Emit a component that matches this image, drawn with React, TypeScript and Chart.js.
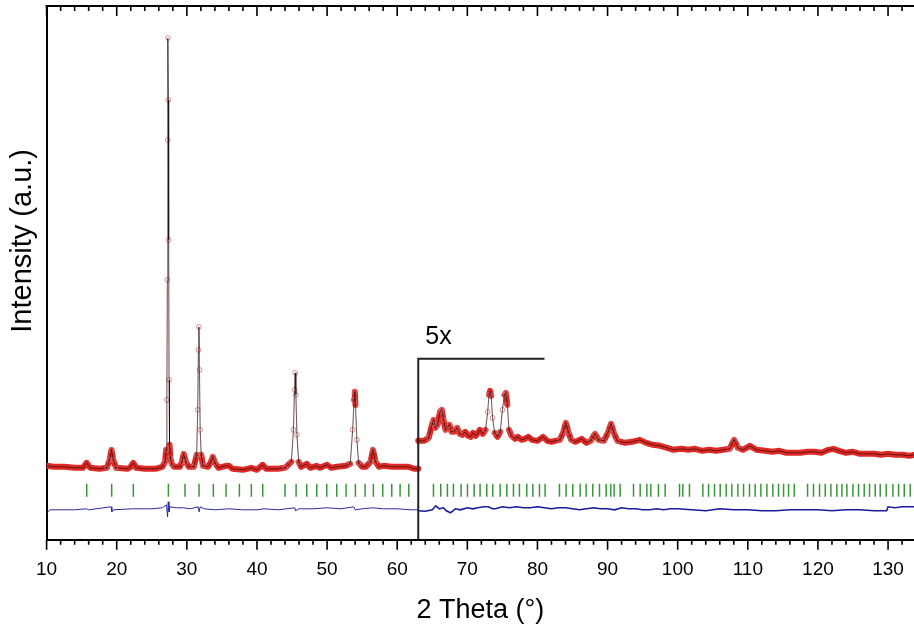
import React, { useEffect, useRef } from 'react';
import { Chart, registerables } from 'chart.js';

Chart.register(...registerables);

// low-angle part, 10 - 63 deg (as measured)
const lowTheta = [
  10.0, 11.0, 12.5, 14.0, 15.2, 15.7, 16.2, 17.5, 18.6, 19.0, 19.25, 19.5, 19.9, 21.5, 22.0, 22.35, 22.8,
  24.0, 25.5, 26.5, 26.9, 27.05, 27.15, 27.22, 27.27, 27.31, 27.36, 27.41, 27.46, 27.53, 27.65, 27.85,
  28.2, 29.0, 29.3, 29.55, 29.85, 30.3, 31.0, 31.4, 31.55, 31.65, 31.72, 31.8, 31.9, 32.05, 32.3, 33.0,
  33.45, 33.7, 34.0, 34.5, 35.6, 36.0, 36.5, 38.0, 39.2, 40.0, 40.8, 41.3, 43.0, 44.0, 44.9, 45.2, 45.35,
  45.45, 45.55, 45.7, 45.95, 46.3, 47.1, 47.6, 48.5, 49.0, 50.0, 50.6, 51.4, 52.7, 53.3, 53.65, 53.85,
  53.95, 54.05, 54.25, 54.5, 55.0, 55.5, 56.2, 56.55, 56.9, 57.4, 58.0, 59.2, 60.4, 61.6, 62.5, 63.0
];
const lowIntensity = [
  74, 73, 73, 72, 72, 77, 72, 71, 72, 80, 90, 80, 72, 71, 73, 77, 72,
  71, 71, 73, 78, 90, 140, 260, 400, 502, 440, 300, 160, 95, 82, 76,
  73, 73, 78, 86, 78, 73, 73, 85, 130, 190, 213, 170, 110, 85, 74, 73,
  78, 83, 77, 72, 74, 74, 71, 70, 72, 70, 75, 71, 71, 72, 78, 110, 150,
  167, 145, 105, 78, 73, 76, 72, 74, 72, 75, 72, 73, 74, 76, 110, 140,
  148, 135, 100, 77, 73, 73, 78, 90, 78, 73, 74, 73, 73, 73, 71, 71
];

// high-angle part, 63 - 134 deg, shown 5x
const highTheta = [
  63.0, 63.8, 64.5, 65.0, 65.2, 65.45, 65.75, 66.1, 66.35, 66.6, 66.9, 67.2, 67.45, 67.75, 68.1, 68.55,
  68.9, 69.3, 69.7, 70.1, 70.45, 70.8, 71.2, 71.5, 71.8, 72.2, 72.6, 72.9, 73.1, 73.25, 73.4, 73.6, 73.9,
  74.3, 74.7, 75.0, 75.3, 75.5, 75.7, 75.95, 76.3, 76.8, 77.2, 77.7, 78.2, 78.7, 79.2, 80.0, 80.8, 81.4,
  82.0, 82.5, 83.2, 83.7, 84.05, 84.4, 84.8, 85.4, 86.3, 87.0, 87.6, 88.2, 88.7, 89.5, 90.1, 90.5, 90.9,
  91.4, 92.5, 93.5, 94.6, 95.5, 96.5, 97.5, 98.5, 99.4, 100.5, 101.5, 102.5, 103.5, 104.5, 105.5, 106.5,
  107.4, 108.05, 108.6, 109.3, 110.3, 111.2, 112.5, 113.5, 114.5, 115.5, 116.5, 117.5, 118.5, 119.5,
  120.5, 121.5, 122.2, 123.0, 124.0, 125.0, 126.0, 127.0, 128.0, 129.0, 130.0, 131.0, 132.0, 133.0, 133.7
];
const highIntensity = [
  99, 99, 102, 116, 120, 112, 115, 128, 130, 120, 110, 113, 115, 108, 108, 112,
  106, 105, 108, 104, 103, 107, 104, 107, 110, 106, 110, 128, 145, 149, 144, 122, 107,
  103, 108, 130, 145, 147, 135, 110, 104, 101, 103, 100, 101, 103, 100, 99, 103, 99,
  98, 99, 100, 108, 117, 108, 100, 98, 101, 97, 99, 106, 100, 99, 108, 116, 107,
  99, 97, 98, 100, 97, 95, 94, 92, 90, 91, 90, 91, 89, 90, 89, 90,
  91, 100, 92, 90, 94, 90, 89, 88, 89, 87, 87, 87, 88, 88,
  87, 90, 91, 89, 87, 88, 86, 86, 86, 85, 86, 85, 85, 84, 85
];

// difference curves
const diffLowTheta = [
  10.0, 10.5, 14, 15.7, 16, 19.2, 19.3, 19.5, 22.3, 25, 26.5, 27.1, 27.25, 27.35, 27.45, 27.6, 28.5, 29.5,
  30.5, 31.6, 31.75, 31.9, 32.5, 34, 36, 38, 40, 41, 43, 45.4, 45.5, 46, 48, 50, 52, 53.8, 54.0, 55, 56.5,
  58, 60, 62, 63
];
const diffLow = [
  27, 30, 30, 31, 30, 33, 28, 30, 31, 31, 32, 35, 23, 38, 28, 33, 32, 32,
  31, 33, 28, 33, 31, 30, 31, 30, 30, 31, 30, 32, 29, 31, 31, 32, 31, 33, 30, 31, 32,
  31, 31, 30, 30
];
const diffHighTheta = [
  63.0, 64, 65, 65.5, 66, 66.6, 67, 67.6, 68.3, 69, 70, 70.8, 71.5, 72.3, 73, 73.6, 74, 75, 76, 77, 78, 79,
  80, 81, 82, 83, 84, 85, 86, 87, 88, 89, 90, 91, 92, 93, 94, 95, 96, 97, 98, 99, 100, 102, 104, 106, 108,
  110, 112, 114, 116, 118, 120, 122, 124, 126, 128, 129.8, 130, 131, 132, 133.7
];
const diffHigh = [
  29, 28.5, 30, 34, 31, 32, 29, 27, 31, 30, 32, 31, 32, 33, 33, 31, 31, 33, 32, 33, 32, 32,
  33, 32, 31, 32, 32, 31, 30, 31, 32, 31, 31, 30, 32, 31, 31, 30, 30, 31, 30, 31, 31, 30, 29, 31, 30,
  30, 29, 29, 30, 30, 30, 29, 30, 30, 29, 29, 33, 32, 33, 33
];

// Bragg reflection positions
const braggTheta = [
  15.72, 19.28, 22.37, 27.37, 29.74, 31.74, 33.78, 35.59, 37.49, 39.2, 40.82, 44.0, 45.58, 47.1, 48.53,
  49.95, 51.38, 52.71, 54.04, 55.42, 56.6, 57.94, 59.22, 60.41, 61.65,
  65.17, 66.21, 67.16, 68.02, 69.11, 70.02, 70.97, 71.82, 72.77, 73.63, 74.68, 75.63, 76.58, 77.43, 78.48,
  79.34, 80.29, 81.09, 83.14, 84.09, 85.04, 86.09, 86.94, 87.89, 88.85, 89.8, 90.46, 90.94, 91.79, 93.7,
  94.65, 95.6, 96.17, 97.26, 98.21, 100.26, 100.73, 101.68, 103.59, 104.4, 105.25, 106.06, 106.92, 107.72,
  108.58, 109.39, 110.24, 111.05, 111.86, 112.72, 113.57, 114.38, 115.1, 115.81, 116.62, 118.52, 119.37,
  120.23, 121.04, 121.85, 122.7, 123.42, 124.13, 124.99, 125.79, 126.6, 127.36, 128.17, 128.88, 129.74,
  130.69, 131.5, 132.31, 133.16
];
const braggLevel = 49.5;

const scaleBreak = 63;
const scaleBarEnd = 81;
const scaleBarLevel = 181;
const scaleLabel = '5x';
const yTitle = 'Intensity (a.u.)';

const FONT = '"Liberation Sans", Arial, sans-serif';

const points = (xs: number[], ys: number[]) => xs.map((x, i) => ({ x, y: ys[i] }));

// observed band is thick on the background, thin where the profile climbs
const steep = (ctx: any) => Math.abs(ctx.p1.y - ctx.p0.y) > 14;

const peakRadius = (ys: number[]) => (ctx: any) => {
  const i = ctx.dataIndex;
  const y = ys[i];
  const prev = i > 0 ? ys[i - 1] : y;
  const next = i < ys.length - 1 ? ys[i + 1] : y;
  return Math.max(Math.abs(y - prev), Math.abs(y - next)) > 5 ? 2.4 : 0;
};

const observed = (xs: number[], ys: number[]) => ({
  type: 'line' as const,
  data: points(xs, ys),
  borderColor: '#de2a26',
  borderWidth: 6,
  borderJoinStyle: 'round' as const,
  borderCapStyle: 'round' as const,
  segment: {
    borderWidth: (ctx: any) => (steep(ctx) ? 0.8 : 6),
    borderColor: (ctx: any) => (steep(ctx) ? 'rgba(215,130,130,0.6)' : '#de2a26'),
  },
  pointRadius: peakRadius(ys),
  pointBorderWidth: 0.9,
  pointBorderColor: 'rgba(200,120,120,0.9)',
  pointBackgroundColor: 'rgba(255,255,255,0)',
  order: 3,
});

const calculated = (xs: number[], ys: number[]) => ({
  type: 'line' as const,
  data: points(xs, ys),
  borderColor: 'rgba(0,0,0,0.55)',
  borderWidth: 1,
  pointRadius: 0,
  order: 1,
});

const frame = {
  id: 'frame',
  afterDraw(chart: any) {
    const { ctx, chartArea: a, scales } = chart;
    const x = scales.x;
    const y = scales.y;
    ctx.save();
    ctx.strokeStyle = '#000';
    ctx.lineWidth = 2;
    ctx.beginPath();
    ctx.moveTo(a.left - 1, a.top);
    ctx.lineTo(a.right, a.top);
    ctx.stroke();

    ctx.lineWidth = 1.6;
    ctx.beginPath();
    for (let v = 10; v <= 134; v += 2) {
      const px = x.getPixelForValue(v);
      if (px > a.right + 1) break;
      const len = v % 10 === 0 ? 10 : 5;
      ctx.moveTo(px, a.bottom);
      ctx.lineTo(px, a.bottom + len);
      ctx.moveTo(px, a.top);
      ctx.lineTo(px, a.top + len);
    }
    ctx.stroke();

    // 5x marker
    const bx = x.getPixelForValue(scaleBreak);
    const by = y.getPixelForValue(scaleBarLevel);
    ctx.strokeStyle = '#222';
    ctx.lineWidth = 2;
    ctx.beginPath();
    ctx.moveTo(bx, a.bottom);
    ctx.lineTo(bx, by);
    ctx.lineTo(x.getPixelForValue(scaleBarEnd), by);
    ctx.stroke();
    ctx.fillStyle = '#000';
    ctx.font = `25px ${FONT}`;
    ctx.textAlign = 'left';
    ctx.textBaseline = 'middle';
    ctx.fillText(scaleLabel, bx + 7, by - 22);

    // y axis title
    ctx.translate(23, a.top + (a.bottom - a.top) * 0.44);
    ctx.rotate(-Math.PI / 2);
    ctx.textAlign = 'center';
    ctx.font = `29px ${FONT}`;
    ctx.fillText(yTitle, 0, 0);
    ctx.restore();
  },
};

export default function App() {
  const canvas = useRef<HTMLCanvasElement>(null);

  useEffect(() => {
    document.body.style.margin = '0';
    const chart = new Chart(canvas.current!, {
      type: 'line',
      data: {
        datasets: [
          observed(lowTheta, lowIntensity),
          observed(highTheta, highIntensity),
          calculated(lowTheta, lowIntensity),
          calculated(highTheta, highIntensity),
          {
            type: 'line',
            data: points(diffLowTheta, diffLow),
            borderColor: '#2c2c9c',
            borderWidth: 1,
            pointRadius: 0,
            order: 2,
          },
          {
            type: 'line',
            data: points(diffHighTheta, diffHigh),
            borderColor: '#1a1aa0',
            borderWidth: 1.6,
            pointRadius: 0,
            order: 2,
          },
          {
            type: 'scatter',
            data: braggTheta.map((x) => ({ x, y: braggLevel })),
            pointStyle: 'line',
            rotation: 90,
            pointRadius: 6.5,
            borderColor: '#3b963b',
            borderWidth: 1.5,
            order: 2,
          },
        ] as any,
      },
      options: {
        animation: false,
        responsive: true,
        maintainAspectRatio: false,
        layout: { autoPadding: false, padding: { left: 46.6, top: 6, right: 0, bottom: 4 } },
        plugins: {
          legend: { display: false },
          tooltip: { enabled: false },
        },
        scales: {
          x: {
            type: 'linear',
            position: 'bottom',
            min: 10,
            max: 133.7,
            afterFit: (scale: any) => {
              scale.paddingRight = 0;
              scale.paddingLeft = 0;
            },
            grid: { display: false, drawTicks: true, tickLength: 10 },
            border: { display: true, color: '#000', width: 2 },
            ticks: {
              stepSize: 10,
              includeBounds: false,
              padding: 9,
              color: '#000',
              font: { family: FONT, size: 19 },
              maxRotation: 0,
            },
            title: {
              display: true,
              text: '2 Theta (°)',
              color: '#000',
              font: { family: FONT, size: 27 },
              padding: { top: 4, bottom: 0 },
            },
          },
          y: {
            type: 'linear',
            min: 0,
            max: 534,
            grid: { display: false, drawTicks: false },
            border: { display: true, color: '#000', width: 2 },
            ticks: { display: false },
            title: { display: false },
          },
        },
      },
      plugins: [frame],
    });
    return () => {
      chart.destroy();
    };
  }, []);

  return (
    <div style={{ width: 914, height: 631, position: 'relative' }}>
      <canvas ref={canvas}></canvas>
    </div>
  );
}
